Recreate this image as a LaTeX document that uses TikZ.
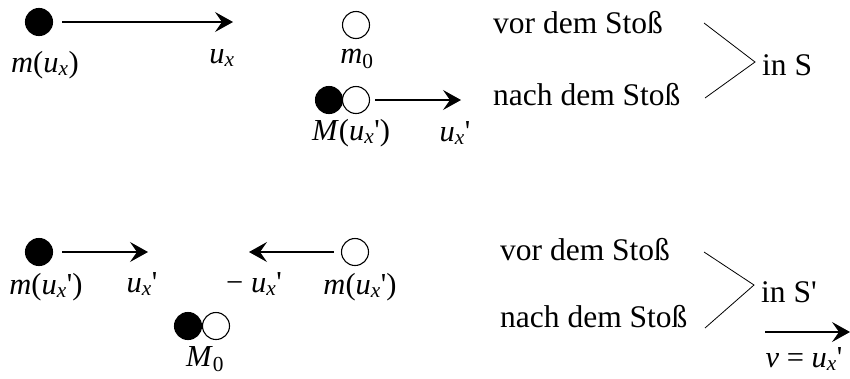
\documentclass[tikz,border=0pt]{standalone}
\usepackage{fontspec}
\setmainfont{Liberation Serif}
\usetikzlibrary{arrows.meta}
\newcommand\ux{\textit{u}\textsubscript{\textit{x}}}
\newcommand\pr{\textquotesingle}
\begin{document}
\begin{tikzpicture}[x=1pt,y=-1pt,
  full/.style={circle,draw,fill=black,line width=1.1pt,minimum size=27pt,inner sep=0pt},
  hollow/.style={circle,draw,fill=white,line width=1.1pt,minimum size=27pt,inner sep=0pt},
  lbl/.style={font=\fontsize{30.5}{34}\selectfont,inner sep=0pt,anchor=base},
  txt/.style={font=\fontsize{31.5}{36}\selectfont,inner sep=0pt,anchor=base west},
  arr/.style={line width=1.1pt,-{Stealth[length=18pt,width=20pt,inset=7pt]}},
  brk/.style={line width=0.8pt}]
\useasboundingbox (0,0) rectangle (850,378);
% --- top: in S
\node[full] (a1) at (39,22) {};
\coordinate (a1e) at (233,22);
\draw[arr] (a1.east) ++(9,0) -- (a1e);
\node[lbl] (la1) at (45,72) {\textit{m}(\ux)};
\node[lbl] (lua) at (222,63) {\ux};
\node[hollow] (b1) at (356,25) {};
\node[lbl] (lb1) at (357,63) {\textit{m}\textsubscript{0}};
\node[full] (c1) at (329,100) {};
\node[hollow] (c2) at (356,100) {};
\coordinate (c2e) at (461,100);
\draw[arr] (c2.east) ++(5,0) -- (c2e);
\node[lbl] (lc) at (351,140) {\textit{M}(\ux\pr)};
\node[lbl] (luc) at (455,141) {\ux\pr};
\node[txt] (v1) at (493,33) {vor dem Stoß};
\node[txt] (n1) at (493,105) {nach dem Stoß};
\coordinate (t1a) at (704,23);
\coordinate (t1b) at (755,62);
\coordinate (t1c) at (705,98);
\draw[brk] (t1a) -- (t1b) -- (t1c);
\node[txt] (s1) at (762,75) {in S};
% --- bottom: in S'
\node[full] (d1) at (39,252) {};
\coordinate (d1e) at (148,252);
\draw[arr] (d1.east) ++(9,0) -- (d1e);
\node[lbl] (ld1) at (46,294) {\textit{m}(\ux\pr)};
\node[lbl] (lud) at (142,292) {\ux\pr};
\node[hollow] (e1) at (355,252) {};
\coordinate (e1e) at (249,252);
\draw[arr] (e1.west) ++(-7,0) -- (e1e);
\node[lbl] (le1) at (360,294) {\textit{m}(\ux\pr)};
\node[lbl] (lue) at (254,292) {\char"2212\ \ux\pr};
\node[full] (f1) at (188,326) {};
\node[hollow] (f2) at (216,326) {};
\node[lbl] (lf) at (205,366) {\textit{M}\textsubscript{0}};
\node[txt] (v2) at (500,260) {vor dem Stoß};
\node[txt] (n2) at (500,327) {nach dem Stoß};
\coordinate (t2a) at (704,252);
\coordinate (t2b) at (754,285);
\coordinate (t2c) at (705,328);
\draw[brk] (t2a) -- (t2b) -- (t2c);
\node[txt] (s2) at (761,302) {in S\pr};
\coordinate (g1) at (765,332);
\coordinate (g2) at (850,332);
\draw[arr] (g1) -- (g2);
\node[lbl] (lg) at (804,367) {\textit{v} = \ux\pr};
\end{tikzpicture}
\end{document}
